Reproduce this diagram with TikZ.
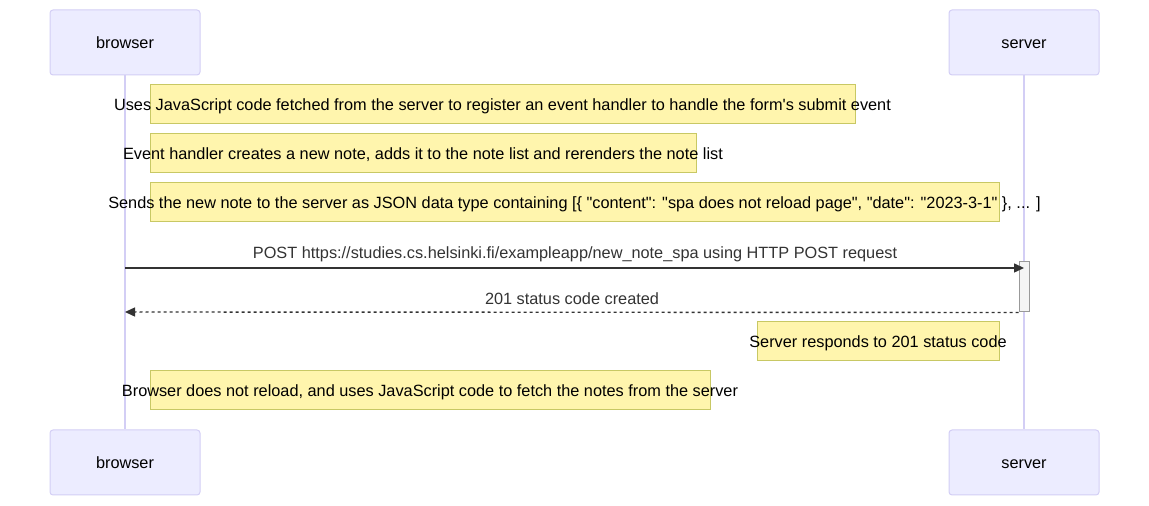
\documentclass[tikz,border=0pt]{standalone}
\usepackage{fontspec}
\setmainfont{Liberation Sans}[Ligatures=TeXOff]
\usetikzlibrary{arrows.meta}
\definecolor{actorfill}{HTML}{ECECFF}
\definecolor{actorline}{HTML}{D3CEF5}
\definecolor{notefill}{HTML}{FFF5AD}
\definecolor{noteline}{HTML}{C8C864}
\definecolor{msgline}{HTML}{333333}
\definecolor{actfill}{HTML}{F4F4F4}
\definecolor{actline}{HTML}{999999}
\tikzset{font=\fontsize{8.15}{10}\selectfont}

\begin{document}
\begin{tikzpicture}[
            x=0.5pt, y=-0.5pt,
            actor/.style={draw=actorline, fill=actorfill, rounded corners=1.5pt,
                line width=0.5pt, minimum width=75pt, minimum height=32.5pt,
                text height=1.5ex, text depth=0.3ex},
            lifeline/.style={draw=actorline, line width=0.75pt},
            notebox/.style={draw=noteline, fill=notefill, line width=0.5pt,
                minimum height=19.5pt, inner sep=0pt},
            notetext/.style={inner sep=0pt, text=black, text height=1.5ex, text depth=0.3ex},
            msg/.style={draw=msgline, line width=0.7pt, -{Triangle[length=5pt,width=4.5pt]}},
            reply/.style={msg, dash pattern=on 1.5pt off 1.5pt},
            msgtext/.style={inner sep=0pt, text=msgline, text height=1.5ex, text depth=0.3ex},
            activation/.style={draw=actline, fill=actfill, line width=0.5pt,
                minimum width=5pt, minimum height=25pt, inner sep=0pt}
            ]
            \useasboundingbox (0,0) rectangle (1149,506);
            % participants
            \node[actor] (browser) at (125,42.5) {browser};
            \node[actor] (server) at (1024,42.5) {server};
            \node[actor] (browserbot) at (125,462.5) {browser};
            \node[actor] (serverbot) at (1024,462.5) {server};
            \draw[lifeline] (browser) -- (browserbot);
            \draw[lifeline] (server) -- (serverbot);
            % notes
            \node[notebox, minimum width=352.5pt] (note1) at (502.5,104.5) {};
            \node[notetext] at (note1) {Uses JavaScript code fetched from the server to register an event handler to handle the form's submit event};
            \node[notebox, minimum width=273pt] (note2) at (423,153.5) {};
            \node[notetext] at (note2) {Event handler creates a new note, adds it to the note list and rerenders the note list};
            \node[notebox, minimum width=424.5pt] (note3) at (574.5,202.5) {};
            \node[notetext] at (note3) {Sends the new note to the server as JSON data type containing [\{ "content": "spa does not reload page", "date": "2023-3-1" \}, ... ]};
            % request and reply
            \node[activation] (act) at (1024,287) {};
            \coordinate (req) at (125,268);
            \coordinate (res) at (125,312);
            \draw[msg] (req) -- (act.center |- req);
            \node[msgtext] (reqtext) at (575,252) {POST https://studies.cs.helsinki.fi/exampleapp/new\_note\_spa using HTTP POST request};
            \draw[reply] (act.south west) -- (res);
            \node[msgtext] (restext) at (572,298) {201 status code created};
            \node[notebox, minimum width=121pt] (note4) at (878,341.5) {};
            \node[notetext] at (note4) {Server responds to 201 status code};
            \node[notebox, minimum width=280pt] (note5) at (430,390.5) {};
            \node[notetext] at (note5) {Browser does not reload, and uses JavaScript code to fetch the notes from the server};
        \end{tikzpicture}
\end{document}
